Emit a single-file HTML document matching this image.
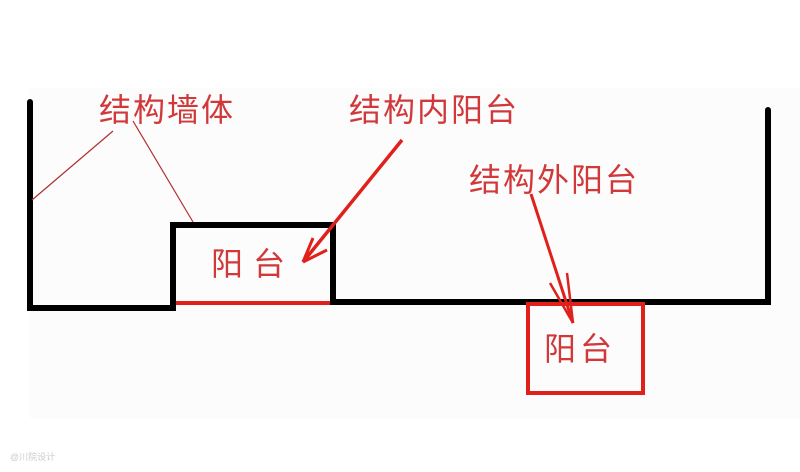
<!DOCTYPE html>
<html><head><meta charset="utf-8"><style>
html,body{margin:0;padding:0;background:#fff;}
svg{display:block;}
text{font-family:"Liberation Sans","Noto Sans CJK SC",sans-serif;fill:#d0383a;}
</style></head><body>
<svg width="800" height="472" viewBox="0 0 800 472" xmlns="http://www.w3.org/2000/svg">
<rect x="0" y="0" width="800" height="472" fill="#fff"/>
<rect x="30" y="88" width="770" height="330" fill="#fcfcfc"/>
<!-- black walls -->
<polyline points="30,102 30,308 173,308 173,225 333,225 333,302 768,302 768,110" fill="none" stroke="#000" stroke-width="6" stroke-linejoin="miter" stroke-linecap="round"/>
<!-- red base of inner balcony -->
<line x1="176" y1="303" x2="330" y2="303" stroke="#e0201a" stroke-width="4"/>
<!-- red outer box -->
<rect x="528" y="304" width="115" height="89" fill="none" stroke="#e0201a" stroke-width="4"/>
<!-- thin leader lines -->
<line x1="113" y1="131" x2="32" y2="200" stroke="#b03030" stroke-width="1.2"/>
<line x1="133" y1="121" x2="193" y2="222" stroke="#b03030" stroke-width="1.2"/>
<!-- inner arrow -->
<line x1="402" y1="140" x2="303" y2="262" stroke="#e0201a" stroke-width="3.5"/>
<line x1="303" y1="262" x2="313" y2="238" stroke="#e0201a" stroke-width="3"/>
<line x1="303" y1="262" x2="327" y2="250" stroke="#e0201a" stroke-width="3"/>
<!-- outer arrow -->
<line x1="531" y1="194" x2="573" y2="323" stroke="#e0201a" stroke-width="3"/>
<line x1="573" y1="323" x2="567" y2="273" stroke="#e0201a" stroke-width="2.5"/>
<line x1="573" y1="323" x2="550" y2="283" stroke="#e0201a" stroke-width="2.5"/>
<!-- labels -->
<text x="99" y="121" font-size="32" letter-spacing="2">结构墙体</text>
<text x="349" y="121" font-size="32" letter-spacing="2">结构内阳台</text>
<text x="469" y="191" font-size="32" letter-spacing="2">结构外阳台</text>
<text x="211" y="275" font-size="32" letter-spacing="10">阳台</text>
<text x="544" y="360" font-size="32" letter-spacing="4">阳台</text>
<text x="10" y="460" font-size="9" style="fill:#ccc">@川院设计</text>
</svg>
</body></html>
